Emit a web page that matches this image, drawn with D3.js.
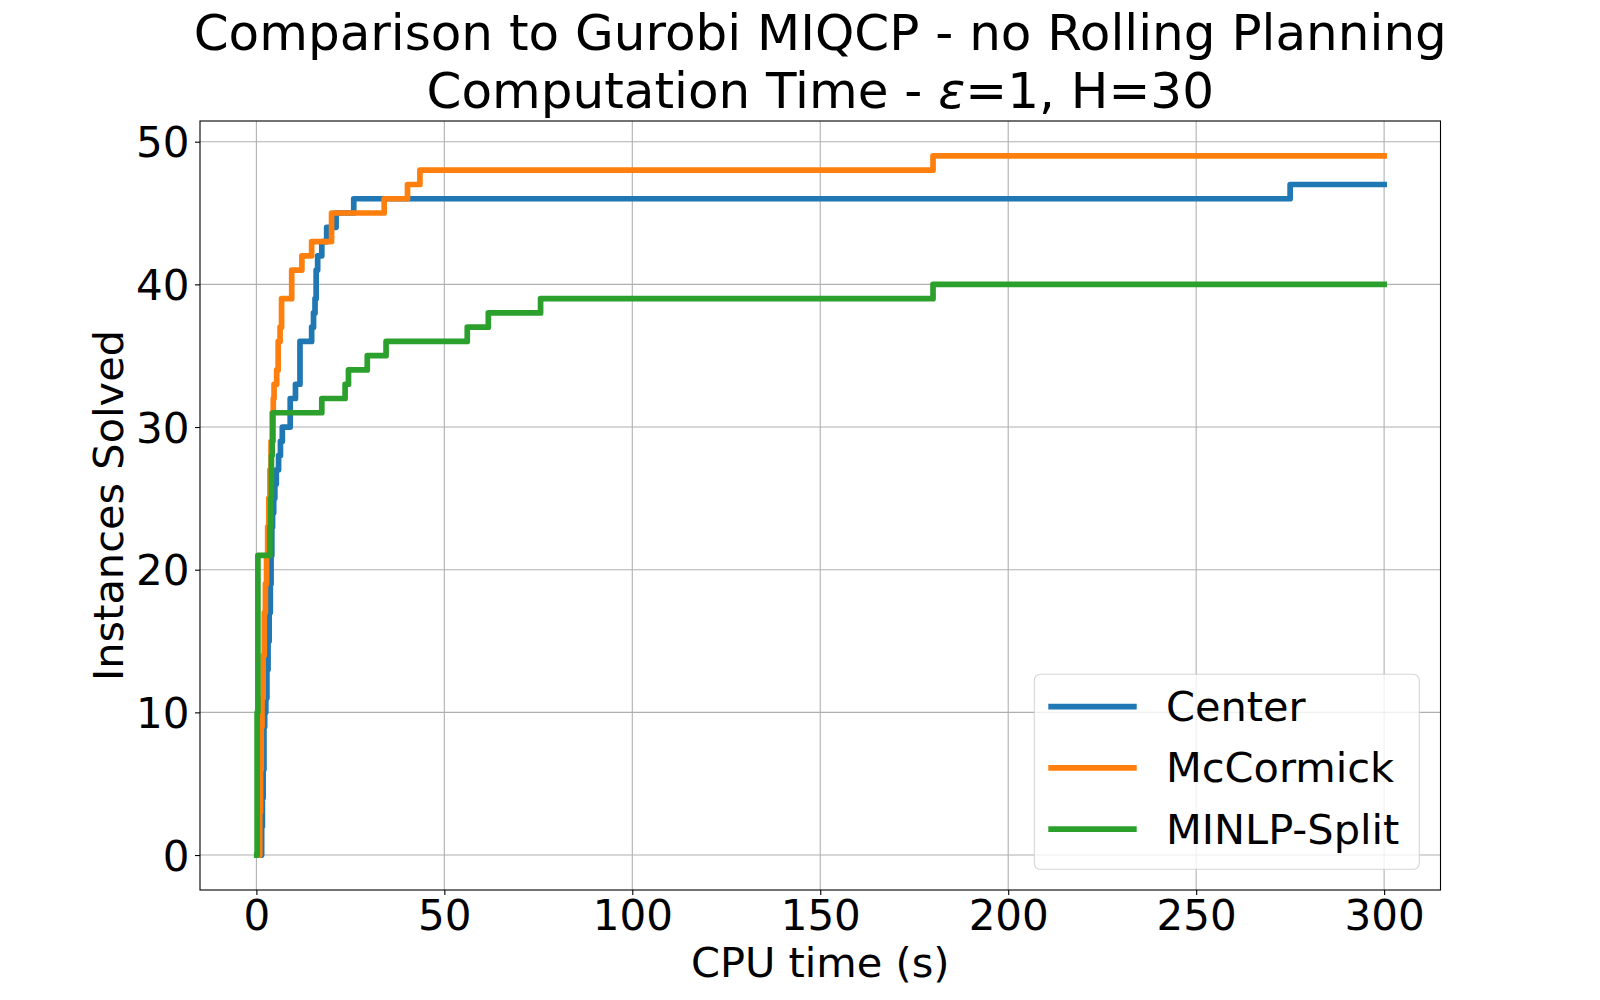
<!DOCTYPE html>
<html>
<head>
<meta charset="utf-8">
<script src="https://cdn.jsdelivr.net/npm/d3@7"></script>
<style>
  body { margin: 0; background: #fff; }
  text { font-family: "DejaVu Sans", sans-serif; fill: #000; }
</style>
</head>
<body>
<div id="chart"></div>
<script>
// data: time (s) when the solved count steps up
var seriesNames = ["Center", "McCormick", "MINLP-Split"];
var seriesColors = ["#1f77b4", "#ff7f0e", "#2ca02c"];

var centerTimes = [1.2, 1.4, 1.6, 1.8, 2.0, 2.2, 2.5, 2.8, 3.1, 3.4, 3.7, 3.9, 4.1, 4.3, 4.6, 4.9, 5.3, 5.9, 6.4, 6.9, 9.0, 10.4, 11.6, 14.7, 15.2, 15.6, 15.9, 16.3, 17.4, 18.7, 21.2, 25.9, 275, 300];
var centerSolved = [0, 2, 4, 6, 9, 10, 11, 13, 15, 17, 19, 21, 23, 24, 25, 26, 27, 28, 29, 30, 32, 33, 36, 37, 38, 39, 41, 42, 43, 44, 45, 46, 47, 47];

var mccormickTimes = [0.7, 0.9, 1.1, 1.3, 1.5, 1.8, 2.1, 2.4, 2.7, 3.0, 3.3, 3.6, 3.9, 4.2, 4.5, 4.7, 5.4, 5.8, 6.3, 6.7, 9.4, 12.1, 14.7, 20.0, 34.0, 40.2, 43.5, 180, 300];
var mccormickSolved = [0, 3, 6, 9, 11, 14, 17, 19, 21, 23, 25, 27, 29, 31, 32, 33, 34, 36, 37, 39, 41, 42, 43, 45, 46, 47, 48, 49, 49];

var splitTimes = [0.1, 0.2, 0.4, 3.6, 3.8, 4.0, 4.2, 4.4, 17.4, 23.6, 24.5, 29.5, 34.5, 56.1, 61.7, 75.6, 180, 300];
var splitSolved = [0, 10, 21, 23, 25, 28, 29, 31, 32, 33, 34, 35, 36, 37, 38, 39, 40, 40];

var xTicks = [0, 50, 100, 150, 200, 250, 300];
var yTicks = [0, 10, 20, 30, 40, 50];

function loadGraph() {
    var svgWidth = 1600;
    var svgHeight = 1000;
    // plot box measured on the reference
    var margin = { top: 121, right: 159.5, bottom: 110, left: 200 };
    var width = svgWidth - margin.left - margin.right;
    var height = svgHeight - margin.top - margin.bottom;

    var svg = d3.select('#chart')
        .append('svg')
        .attr('width', svgWidth)
        .attr('height', svgHeight);

    var chartGroup = svg.append('g')
        .attr('transform', `translate(${margin.left}, ${margin.top})`);

    // matplotlib style 5% padding on both axes
    var xScale = d3.scaleLinear().domain([-15, 315]).range([0, width]);
    var yScale = d3.scaleLinear().domain([-2.45, 51.45]).range([height, 0]);

    // grid lines
    chartGroup.append('g')
        .selectAll('line')
        .data(xTicks)
        .enter()
        .append('line')
        .attr('x1', d => xScale(d)).attr('x2', d => xScale(d))
        .attr('y1', 0).attr('y2', height)
        .attr('stroke', '#b0b0b0').attr('stroke-width', 1.1);

    chartGroup.append('g')
        .selectAll('line')
        .data(yTicks)
        .enter()
        .append('line')
        .attr('y1', d => yScale(d)).attr('y2', d => yScale(d))
        .attr('x1', 0).attr('x2', width)
        .attr('stroke', '#b0b0b0').attr('stroke-width', 1.1);

    // axes
    var xAxis = d3.axisBottom(xScale).tickValues(xTicks).tickSize(5).tickPadding(8);
    var yAxis = d3.axisLeft(yScale).tickValues(yTicks).tickSize(5).tickPadding(8);

    var gx = chartGroup.append('g')
        .attr('transform', `translate(0, ${height})`)
        .call(xAxis);
    var gy = chartGroup.append('g')
        .call(yAxis);

    [gx, gy].forEach(g => {
        g.select('.domain').remove();
        g.selectAll('line').attr('stroke', '#000').attr('stroke-width', 1.1);
        g.selectAll('text')
            .style('font-family', '"DejaVu Sans", sans-serif')
            .style('font-size', '42px')
            .attr('fill', '#000');
    });
    gx.selectAll('text').attr('dy', null).attr('y', 40);
    gy.selectAll('text').attr('dy', '0.36em').attr('x', -10.5);

    // step lines
    var series = [
        { name: seriesNames[0], color: seriesColors[0], t: centerTimes, n: centerSolved },
        { name: seriesNames[1], color: seriesColors[1], t: mccormickTimes, n: mccormickSolved },
        { name: seriesNames[2], color: seriesColors[2], t: splitTimes, n: splitSolved }
    ];

    var line = d3.line()
        .x(d => xScale(d[0]))
        .y(d => yScale(d[1]))
        .curve(d3.curveStepAfter);

    series.forEach(s => {
        var pts = s.t.map((t, i) => [t, s.n[i]]);
        chartGroup.append('path')
            .datum(pts)
            .attr('d', line)
            .attr('fill', 'none')
            .attr('stroke', s.color)
            .attr('stroke-width', 5.7)
            .attr('stroke-linejoin', 'round')
            .attr('stroke-linecap', 'square');
    });

    // frame
    chartGroup.append('rect')
        .attr('x', 0).attr('y', 0)
        .attr('width', width).attr('height', height)
        .attr('fill', 'none')
        .attr('stroke', '#000')
        .attr('stroke-width', 1.1);

    // legend
    var legend = svg.append('g');
    legend.append('rect')
        .attr('x', 1034.3).attr('y', 674.3)
        .attr('width', 385).attr('height', 195)
        .attr('rx', 6)
        .attr('fill', 'rgba(255,255,255,0.8)')
        .attr('stroke', 'rgba(204,204,204,0.8)')
        .attr('stroke-width', 1.1);

    series.forEach((s, i) => {
        var ly = 706.7 + i * 61.2;
        legend.append('line')
            .attr('x1', 1048.3).attr('x2', 1136.7)
            .attr('y1', ly).attr('y2', ly)
            .attr('stroke', s.color)
            .attr('stroke-width', 5.7);
        legend.append('text')
            .attr('x', 1166)
            .attr('y', ly + 14.5)
            .style('font-size', '41.5px')
            .text(s.name);
    });

    // titles and axis labels
    svg.append('text')
        .attr('x', margin.left + width / 2)
        .attr('y', 50)
        .attr('text-anchor', 'middle')
        .style('font-size', '50px')
        .text('Comparison to Gurobi MIQCP - no Rolling Planning');

    var t2 = svg.append('text')
        .attr('x', margin.left + width / 2)
        .attr('y', 107.5)
        .attr('text-anchor', 'middle')
        .style('font-size', '50px');
    t2.append('tspan').text('Computation Time - ');
    t2.append('tspan').style('font-style', 'italic').text('ε');
    t2.append('tspan').text('=1, H=30');

    svg.append('text')
        .attr('x', margin.left + width / 2)
        .attr('y', 977)
        .attr('text-anchor', 'middle')
        .style('font-size', '41.5px')
        .text('CPU time (s)');

    svg.append('text')
        .attr('transform', `translate(122.5, ${margin.top + height / 2}) rotate(-90)`)
        .attr('text-anchor', 'middle')
        .style('font-size', '41.5px')
        .text('Instances Solved');
}

loadGraph();
</script>
</body>
</html>
